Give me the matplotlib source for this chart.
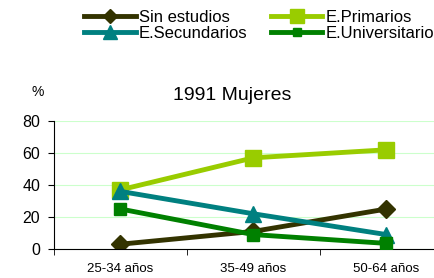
import numpy as np
import matplotlib.pyplot as plt

plt.rcParams['font.family'] = ['Liberation Sans', 'DejaVu Sans']

categorias = ['25-34 años', '35-49 años', '50-64 años']
sin_estudios = [3, 11, 25]
primarios = [37, 57, 62]
secundarios = [36, 22, 9]
universitarios = [25, 9, 3.5]

fig = plt.figure(figsize=(4.34, 2.78), dpi=100)
ax = fig.add_axes([54/434, 29/278, 399/434, 128/278])

x = np.arange(len(categorias))
l1, = ax.plot(x, sin_estudios, color='#333300', lw=3.5, marker='D', ms=9, label='Sin estudios', zorder=2.5)
l2, = ax.plot(x, primarios, color='#99cc00', lw=3.5, marker='s', ms=12, label='E.Primarios', zorder=2)
l3, = ax.plot(x, secundarios, color='#008080', lw=3.5, marker='^', ms=12, label='E.Secundarios', zorder=3)
l4, = ax.plot(x, universitarios, color='#008000', lw=3.5, marker='s', ms=8, label='E.Universitarios', zorder=3)

ax.set_xlim(-0.5, 2.5)
ax.set_ylim(0, 80)
ax.set_yticks([0, 20, 40, 60, 80])
ax.set_xticks(x)
ax.set_xticklabels(categorias, fontsize=9.5)
ax.set_xticks([-0.5, 0.5, 1.5, 2.5], minor=True)
ax.tick_params(axis='x', which='major', length=0, pad=10)
ax.tick_params(axis='x', which='minor', length=4, direction='out')
ax.tick_params(axis='y', labelsize=11.5, length=4, pad=6)
ax.grid(axis='y', color='#ccffcc', lw=0.8)
ax.set_axisbelow(True)
for s in ['top', 'right']:
    ax.spines[s].set_visible(False)
ax.spines['left'].set_linewidth(0.8)
ax.spines['bottom'].set_linewidth(0.8)

fig.text(232/434, 1 - 95/278, '1991 Mujeres', fontsize=14, ha='center', va='center')
fig.text(38/434, 1 - 92/278, '%', fontsize=10, ha='center', va='center')

# column-first fill: Sin estudios / E.Secundarios, then E.Primarios / E.Universitarios
fig.legend(handles=[l1, l3, l2, l4], loc='upper left', bbox_to_anchor=(78/434, 1 - 4/278),
           ncol=2, frameon=False, fontsize=12, handlelength=3.1, handletextpad=0.2,
           columnspacing=1.4, labelspacing=0.05, borderaxespad=0.0, borderpad=0.35,
           markerscale=0.8)

fig.savefig('out.png', dpi=100)
